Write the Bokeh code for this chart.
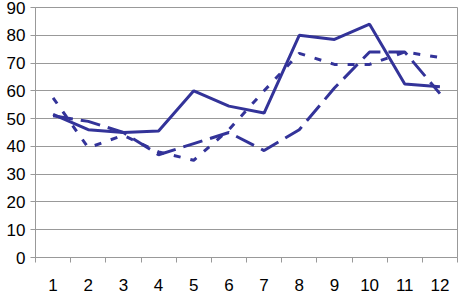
from bokeh.plotting import figure
from bokeh.models import FixedTicker, Range1d
from bokeh.embed import file_html
from bokeh.resources import INLINE

categories = [1, 2, 3, 4, 5, 6, 7, 8, 9, 10, 11, 12]
series_solid = [51.5, 46, 45, 45.5, 60, 54.5, 52, 80, 78.5, 84, 62.5, 61.5]
series_long_dash = [51, 49, 45, 37, 41, 45, 38.5, 46, 61, 74, 74, 59]
series_short_dash = [57.5, 39.5, 44, 38, 35, 46, 60, 73.5, 69.5, 69.5, 74, 72]
y_ticks = [0, 10, 20, 30, 40, 50, 60, 70, 80, 90]

p = figure(width=459, height=293, output_backend="svg", toolbar_location=None,
           x_range=Range1d(0.5, 12.5), y_range=Range1d(0, 90),
           min_border_left=35, min_border_right=2, min_border_top=7, min_border_bottom=34)
p.background_fill_color = "white"
p.border_fill_color = "white"
p.outline_line_color = "#999999"
p.outline_line_width = 1

color = "#333399"
p.line(categories, series_solid, line_color=color, line_width=3)
p.line(categories, series_long_dash, line_color=color, line_width=3, line_dash="20 8")
p.line(categories, series_short_dash, line_color=color, line_width=3, line_dash="7 10")

p.xgrid.visible = False
p.ygrid.grid_line_color = "#999999"
p.ygrid.grid_line_width = 1
p.ygrid.ticker = FixedTicker(ticks=y_ticks)

xa = p.xaxis[0]
xa.ticker = FixedTicker(ticks=categories, minor_ticks=[c - 0.5 for c in categories] + [12.5])
xa.major_tick_out = 0
xa.major_tick_in = 0
xa.minor_tick_out = 5
xa.minor_tick_in = 0
xa.minor_tick_line_color = "#999999"
xa.axis_line_color = "#999999"
xa.major_label_standoff = 16

ya = p.yaxis[0]
ya.ticker = FixedTicker(ticks=y_ticks)
ya.major_tick_out = 5
ya.major_tick_in = 0
ya.minor_tick_out = 0
ya.minor_tick_in = 0
ya.major_tick_line_color = "#999999"
ya.axis_line_color = "#999999"
ya.major_label_standoff = 5

for ax in (xa, ya):
    ax.major_label_text_font = "Liberation Sans"
    ax.major_label_text_font_size = "17px"
    ax.major_label_text_color = "black"

open("out.html", "w").write(file_html(p, INLINE))
